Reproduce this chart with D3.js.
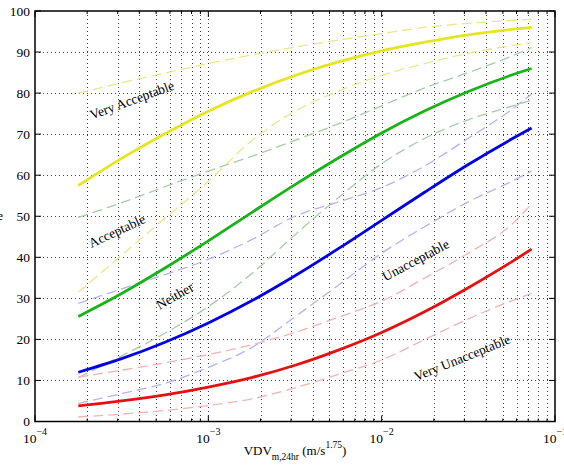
<!DOCTYPE html>
<html>
<head>
<meta charset="utf-8">
<script src="https://cdn.jsdelivr.net/npm/d3@7"></script>
<style>
  html, body { margin: 0; padding: 0; background: #fff; }
  svg { display: block; }
  text { font-family: "Liberation Serif", "DejaVu Serif", serif; fill: #000; }
</style>
</head>
<body>
<svg id="chart" width="564" height="466"></svg>
<script>
// ---- data ----
const vdv = [1.778e-4, 3.162e-4, 5.623e-4, 1.0e-3, 1.778e-3, 3.162e-3, 5.623e-3, 1.0e-2, 1.778e-2, 3.162e-2, 5.623e-2, 7.33e-2];

const veryAcceptable      = [57.5, 64.1, 70.1, 75.6, 80.3, 84.3, 87.6, 90.3, 92.4, 94.2, 95.5, 96.0];
const veryAcceptableUpper = [80.0, 82.5, 84.9, 87.2, 89.3, 91.2, 92.9, 94.5, 96.0, 97.0, 97.7, 98.0];
const veryAcceptableLower = [31.5, 40.5, 49.5, 58.5, 68.4, 75.6, 80.5, 84.3, 87.2, 89.7, 91.6, 92.3];

const acceptable      = [25.6, 31.2, 37.4, 44.0, 50.9, 57.7, 64.2, 70.3, 75.7, 80.4, 84.4, 86.0];
const acceptableUpper = [49.7, 53.3, 57.2, 61.0, 64.6, 68.5, 72.5, 76.9, 81.3, 85.0, 89.0, 91.1];
const acceptableLower = [10.7, 16.0, 21.5, 28.0, 36.0, 45.5, 54.5, 62.8, 69.0, 73.5, 76.8, 78.3];

const neither      = [12.0, 15.3, 19.3, 24.0, 29.4, 35.5, 42.1, 49.0, 55.9, 62.6, 68.8, 71.5];
const neitherUpper = [28.8, 32.3, 35.8, 39.5, 44.3, 50.0, 53.5, 57.0, 62.3, 69.0, 76.0, 79.8];
const neitherLower = [4.4, 6.8, 9.3, 13.2, 18.0, 25.5, 33.2, 41.0, 47.5, 53.5, 58.5, 61.0];

const unacceptable      = [3.8, 5.0, 6.5, 8.4, 10.7, 13.7, 17.4, 21.7, 26.8, 32.6, 38.9, 42.0];
const unacceptableUpper = [10.8, 12.5, 14.3, 16.3, 18.7, 21.7, 25.4, 29.3, 35.0, 41.0, 48.0, 53.0];
const unacceptableLower = [1.1, 1.8, 2.7, 3.9, 5.5, 8.2, 11.5, 15.0, 20.0, 25.0, 29.4, 31.2];

const yTicks = [0, 10, 20, 30, 40, 50, 60, 70, 80, 90, 100];
const xTickExponents = [-4, -3, -2, -1];

const labelTexts = ["Very Acceptable", "Acceptable", "Neither", "Unacceptable", "Very Unacceptable"];
// label anchors in data coordinates [vdv, percent, rotation]
const labelAnchors = [[3.62e-4, 78.3, -20], [2.97e-4, 46.4, -25], [6.41e-4, 30.6, -30], [1.57e-2, 39.3, -28], [2.91e-2, 15.5, -22]];

// ---- layout ----
const svg = d3.select("#chart");
const L = 35, R = 555, T = 11, B = 421.5;
const x = d3.scaleLog().domain([1e-4, 1e-1]).range([L, R]);
const y = d3.scaleLinear().domain([0, 100]).range([B, T]);

// grid
const minorX = [];
for (let e = -4; e < -1; e++) for (let m = 1; m <= 9; m++) minorX.push(m * Math.pow(10, e));
const gridX = minorX.filter(v => v > 1.0001e-4);
const grid = svg.append("g").attr("stroke", "#444").attr("stroke-width", 1).attr("stroke-dasharray", "1,3");
grid.selectAll("line.gx").data(gridX).join("line")
  .attr("x1", d => Math.round(x(d)) + 0.5).attr("x2", d => Math.round(x(d)) + 0.5)
  .attr("y1", T).attr("y2", B);
grid.selectAll("line.gy").data(yTicks.slice(1, -1)).join("line")
  .attr("x1", L).attr("x2", R)
  .attr("y1", d => Math.round(y(d)) + 0.5).attr("y2", d => Math.round(y(d)) + 0.5);

// curves
const line = d3.line().x((d, i) => x(vdv[i])).y(d => y(d)).curve(d3.curveMonotoneX);
const dashed = [
  [veryAcceptableUpper, "#e8e88a"], [veryAcceptableLower, "#e8e88a"],
  [acceptableUpper, "#a8cca8"], [acceptableLower, "#a8cca8"],
  [neitherUpper, "#b4b4f0"], [neitherLower, "#b4b4f0"],
  [unacceptableUpper, "#f0b4b4"], [unacceptableLower, "#f0b4b4"]
];
svg.append("g").selectAll("path").data(dashed).join("path")
  .attr("d", d => line(d[0])).attr("fill", "none")
  .attr("stroke", d => d[1]).attr("stroke-width", 1.3).attr("stroke-dasharray", "10,5");

const solid = [
  [veryAcceptable, "#e6e61e"], [acceptable, "#16b416"],
  [neither, "#0000e6"], [unacceptable, "#e61010"]
];
svg.append("g").selectAll("path").data(solid).join("path")
  .attr("d", d => line(d[0])).attr("fill", "none")
  .attr("stroke", d => d[1]).attr("stroke-width", 2.8).attr("stroke-linecap", "butt");

// frame
svg.append("rect").attr("x", L).attr("y", T).attr("width", R - L).attr("height", B - T)
  .attr("fill", "none").attr("stroke", "#000").attr("stroke-width", 1.5);

// ticks (inward, all four sides)
const tk = svg.append("g").attr("stroke", "#000").attr("stroke-width", 1);
const majorX = xTickExponents.map(e => Math.pow(10, e));
const allX = minorX.concat([1e-1]);
allX.forEach(v => {
  const isMajor = majorX.some(m => Math.abs(m - v) / m < 1e-6);
  const len = isMajor ? 6 : 3;
  const px = x(v);
  tk.append("line").attr("x1", px).attr("x2", px).attr("y1", B).attr("y2", B - len);
  tk.append("line").attr("x1", px).attr("x2", px).attr("y1", T).attr("y2", T + len);
});
yTicks.forEach(v => {
  const py = y(v);
  tk.append("line").attr("x1", L).attr("x2", L + 6).attr("y1", py).attr("y2", py);
  tk.append("line").attr("x1", R).attr("x2", R - 6).attr("y1", py).attr("y2", py);
});

// y tick labels
svg.append("g").selectAll("text").data(yTicks).join("text")
  .attr("x", L - 5).attr("y", d => y(d) + 4.5)
  .attr("text-anchor", "end").attr("font-size", 13.5)
  .text(d => d);

// x tick labels
const xl = svg.append("g");
xTickExponents.forEach(e => {
  const t = xl.append("text").attr("x", x(Math.pow(10, e))).attr("y", 442.5)
    .attr("text-anchor", "middle").attr("font-size", 13.5);
  t.append("tspan").text("10");
  t.append("tspan").attr("dy", -8).attr("font-size", 10).text("\u2212" + Math.abs(e));
});

// axis labels
const xlab = svg.append("text").attr("x", (L + R) / 2).attr("y", 455)
  .attr("text-anchor", "middle").attr("font-size", 13);
xlab.append("tspan").text("VDV");
xlab.append("tspan").attr("dy", 5).attr("font-size", 9.5).text("m,24hr");
xlab.append("tspan").attr("dy", -5).text(" (m/s");
xlab.append("tspan").attr("dy", -7).attr("font-size", 9.5).text("1.75");
xlab.append("tspan").attr("dy", 7).text(")");

svg.append("text").attr("x", 3).attr("y", 220).attr("text-anchor", "end")
  .attr("font-size", 13).text("Percentage");

// category annotations
svg.append("g").selectAll("text").data(labelTexts).join("text")
  .attr("transform", (d, i) => `translate(${x(labelAnchors[i][0])},${y(labelAnchors[i][1])}) rotate(${labelAnchors[i][2]})`)
  .attr("text-anchor", "middle").attr("dominant-baseline", "central")
  .attr("font-size", 13.5).text(d => d);
</script>
</body>
</html>
